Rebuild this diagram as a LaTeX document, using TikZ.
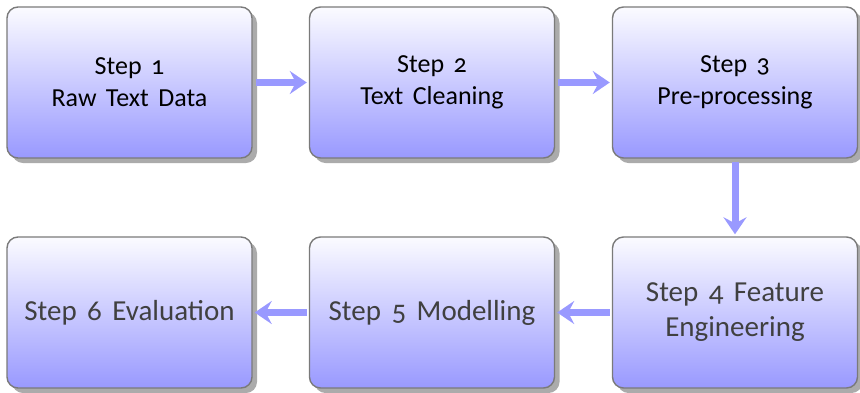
\documentclass[tikz,border=0pt]{standalone}
\usepackage{fontspec}
\setmainfont{Carlito}[Numbers=OldStyle,WordSpace=1.6]
\usetikzlibrary{arrows.meta,shadows}
\definecolor{flowblue}{HTML}{9999FF}
\definecolor{boxtop}{HTML}{FBFBFF}
\definecolor{edgegray}{HTML}{7A7A7A}
\definecolor{shadowgray}{HTML}{ABABAB}
\definecolor{darktext}{HTML}{404040}
\tikzset{
  stepbox/.style={draw=edgegray, line width=1.4pt, rounded corners=11pt,
    top color=boxtop, bottom color=flowblue, minimum width=245pt,
    minimum height=151pt, align=center, inner sep=0pt,
    drop shadow={shadow xshift=5pt, shadow yshift=-5pt, fill=shadowgray, opacity=1}},
  toptext/.style={font=\fontsize{26}{32}\selectfont, text=black},
  bottext/.style={font=\fontsize{29}{35}\selectfont, text=darktext},
  flow/.style={draw=flowblue, line width=7pt,
    -{Stealth[length=17pt, width=23pt, inset=6pt, fill=flowblue]}}
}
\begin{document}
\begin{tikzpicture}[x=1pt,y=-1pt]
\useasboundingbox (0,0) rectangle (860,392);
\node[stepbox, toptext] (s1) at (129.5,82.5) {Step 1\\Raw Text Data};
\node[stepbox, toptext] (s2) at (432,82.5) {};
\node[stepbox, toptext] (s3) at (735,82.5) {};
\node[toptext, align=center] (t2) at (432,82.5) {Step 2\\Text Cleaning};
\node[toptext, align=center] (t3) at (735,82.5) {Step 3\\Pre-processing};
\node[stepbox, bottext] (s4) at (735,312.5) {Step 4 Feature\\Engineering};
\node[stepbox, bottext] (s5) at (432,312.5) {Step 5 Modelling};
\node[stepbox, bottext] (s6) at (129.5,312.5) {Step 6 Evaluation};
\draw[flow] ([xshift=3pt]s1.east) -- ([xshift=-2pt]s2.west);
\draw[flow] ([xshift=3pt]s2.east) -- ([xshift=-2pt]s3.west);
\draw[flow] ([yshift=-3pt]s3.south) -- ([yshift=2pt]s4.north);
\draw[flow] ([xshift=-2pt]s4.west) -- ([xshift=2pt]s5.east);
\draw[flow] ([xshift=-2pt]s5.west) -- ([xshift=2pt]s6.east);
\end{tikzpicture}
\end{document}
